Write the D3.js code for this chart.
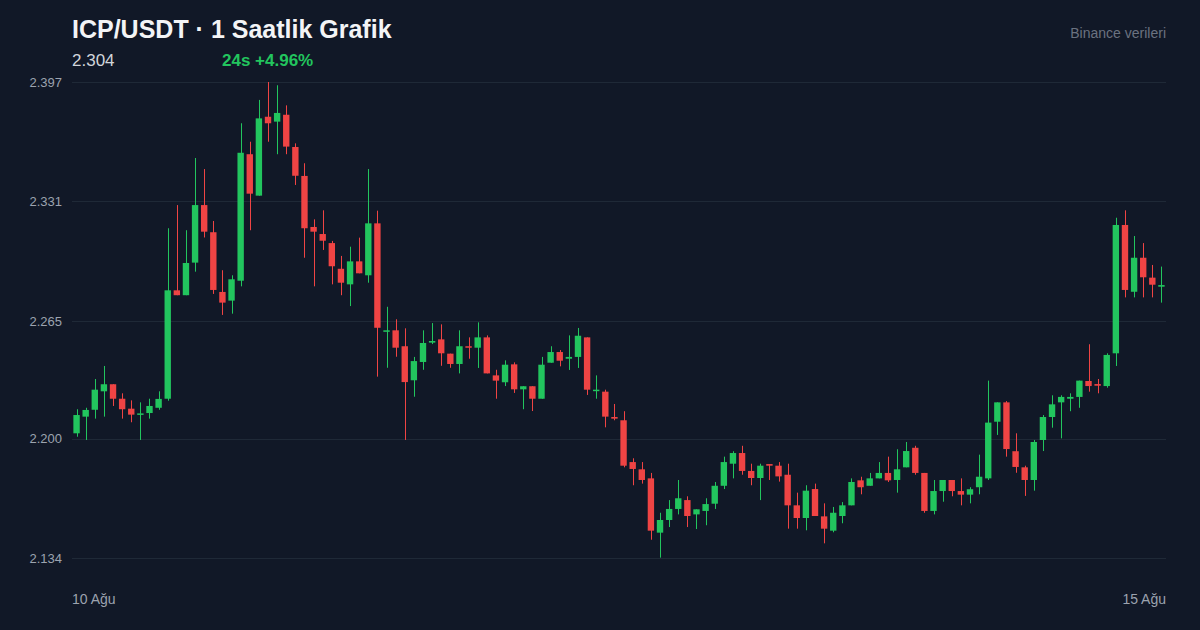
<!DOCTYPE html>
<html>
<head>
<meta charset="utf-8">
<script src="https://cdn.jsdelivr.net/npm/d3@7/dist/d3.min.js"></script>
<style>
  html, body { margin: 0; padding: 0; background: #111827; }
  svg { display: block; }
  text { font-family: "Liberation Sans", Arial, Helvetica, sans-serif; }
</style>
</head>
<body>
<svg id="chart" width="1200" height="630"></svg>
<script>
// ---- Data (hourly candles, ICP/USDT) ----
const opens = [2.2029,2.2121,2.2159,2.2261,2.2300,2.2220,2.2165,2.2132,2.2141,2.2170,
  2.2220,2.2819,2.2792,2.2972,2.3290,2.3140,2.2810,2.2762,2.2872,2.3571,
  2.3342,2.3778,2.3751,2.3789,2.3611,2.3451,2.3169,2.3130,2.3080,2.2938,
  2.2852,2.2979,2.2902,2.3189,2.2590,2.2598,2.2510,2.2322,2.2423,2.2530,
  2.2548,2.2469,2.2412,2.2510,2.2502,2.2559,2.2349,2.2311,2.2410,2.2272,
  2.2289,2.2220,2.2419,2.2478,2.2441,2.2451,2.2559,2.2263,2.2259,2.2119,
  2.2101,2.1870,2.1830,2.1780,2.1480,2.1550,2.1611,2.1660,2.1581,2.1600,
  2.1640,2.1739,2.1861,2.1920,2.1821,2.1782,2.1859,2.1850,2.1800,2.1631,
  2.1561,2.1721,2.1570,2.1491,2.1572,2.1631,2.1769,2.1739,2.1780,2.1810,
  2.1771,2.1841,2.1949,2.1810,2.1600,2.1710,2.1771,2.1710,2.1690,2.1731,
  2.1780,2.2093,2.2200,2.1930,2.1841,2.1771,2.1992,2.2119,2.2200,2.2220,
  2.2230,2.2318,2.2301,2.2290,2.2471,2.3180,2.2811,2.2999,2.2889,2.2839];
const highs = [2.2162,2.2170,2.2329,2.2401,2.2300,2.2250,2.2211,2.2200,2.2220,2.2261,
  2.3162,2.3290,2.3151,2.3550,2.3489,2.3202,2.2930,2.2902,2.3742,2.3640,
  2.3871,2.3970,2.3952,2.3841,2.3631,2.3521,2.3211,2.3261,2.3092,2.3009,
  2.3060,2.3110,2.3489,2.3259,2.2728,2.2659,2.2609,2.2451,2.2598,2.2638,
  2.2631,2.2469,2.2598,2.2559,2.2642,2.2570,2.2380,2.2432,2.2421,2.2289,
  2.2289,2.2451,2.2510,2.2489,2.2570,2.2611,2.2559,2.2349,2.2270,2.2191,
  2.2151,2.1891,2.1870,2.1810,2.1590,2.1660,2.1771,2.1681,2.1609,2.1670,
  2.1760,2.1900,2.1930,2.1960,2.1861,2.1861,2.1859,2.1870,2.1861,2.1701,
  2.1742,2.1751,2.1642,2.1622,2.1649,2.1780,2.1789,2.1810,2.1870,2.1900,
  2.1941,2.1981,2.1960,2.1810,2.1771,2.1771,2.1771,2.1780,2.1731,2.1911,
  2.2320,2.2200,2.2207,2.2029,2.1850,2.1992,2.2130,2.2239,2.2239,2.2250,
  2.2320,2.2521,2.2329,2.2471,2.3220,2.3261,2.3119,2.3080,2.2959,2.2950];
const lows = [2.2010,2.1992,2.2110,2.2121,2.2180,2.2110,2.2090,2.1992,2.2110,2.2159,
  2.2209,2.2792,2.2792,2.2922,2.3111,2.2799,2.2683,2.2690,2.2841,2.3151,
  2.3342,2.3640,2.3571,2.3571,2.3401,2.2999,2.2841,2.3042,2.2852,2.2792,
  2.2732,2.2913,2.2861,2.2342,2.2391,2.2452,2.1992,2.2231,2.2380,2.2522,
  2.2402,2.2391,2.2360,2.2441,2.2390,2.2360,2.2220,2.2290,2.2252,2.2162,
  2.2152,2.2220,2.2419,2.2399,2.2379,2.2390,2.2241,2.2220,2.2062,2.2101,
  2.1841,2.1742,2.1751,2.1441,2.1342,2.1511,2.1581,2.1511,2.1500,2.1521,
  2.1611,2.1721,2.1780,2.1800,2.1742,2.1660,2.1771,2.1762,2.1502,2.1502,
  2.1493,2.1572,2.1421,2.1482,2.1532,2.1631,2.1692,2.1739,2.1780,2.1760,
  2.1701,2.1841,2.1800,2.1590,2.1581,2.1651,2.1681,2.1631,2.1642,2.1692,
  2.1771,2.2020,2.1900,2.1811,2.1683,2.1712,2.1931,2.2060,2.2001,2.2151,
  2.2170,2.2259,2.2250,2.2281,2.2401,2.2780,2.2780,2.2780,2.2780,2.2751];
const closes = [2.2130,2.2158,2.2270,2.2300,2.2220,2.2162,2.2132,2.2139,2.2180,2.2219,
  2.2819,2.2792,2.2970,2.3290,2.3143,2.2821,2.2751,2.2880,2.3579,2.3353,
  2.3769,2.3742,2.3799,2.3613,2.3452,2.3162,2.3143,2.3093,2.2952,2.2861,
  2.2979,2.2913,2.3189,2.2612,2.2598,2.2502,2.2312,2.2428,2.2528,2.2539,
  2.2471,2.2412,2.2510,2.2502,2.2559,2.2360,2.2320,2.2408,2.2272,2.2289,
  2.2220,2.2408,2.2478,2.2430,2.2451,2.2568,2.2270,2.2270,2.2121,2.2110,
  2.1850,2.1832,2.1771,2.1491,2.1550,2.1611,2.1670,2.1572,2.1609,2.1638,
  2.1739,2.1870,2.1920,2.1821,2.1782,2.1850,2.1850,2.1791,2.1631,2.1561,
  2.1712,2.1572,2.1502,2.1590,2.1631,2.1760,2.1731,2.1780,2.1810,2.1769,
  2.1830,2.1931,2.1810,2.1600,2.1710,2.1771,2.1710,2.1690,2.1720,2.1789,
  2.2088,2.2200,2.1942,2.1843,2.1771,2.1981,2.2119,2.2189,2.2230,2.2230,
  2.2320,2.2290,2.2292,2.2462,2.3180,2.2821,2.2999,2.2891,2.2850,2.2848];

const yTickValues = [2.134, 2.200, 2.265, 2.331, 2.397];
const xTickLabels = ["10 Ağu", "15 Ağu"];
const titleText = "ICP/USDT · 1 Saatlik Grafik";
const lastPriceText = "2.304";
const changeText = "24s +4.96%";
const sourceText = "Binance verileri";

// ---- Layout ----
const W = 1200, H = 630;
const plot = { left: 72, right: 1166, top: 82, bottom: 558 };
const colors = { bg: "#111827", grid: "#1f2937", up: "#22c55e", down: "#ef4444",
  title: "#f3f4f6", sub: "#d1d5db", axis: "#9ca3af", source: "#6b7280" };

const candles = opens.map((o, i) => ({ i, o, h: highs[i], l: lows[i], c: closes[i] }));

const svg = d3.select("#chart");
svg.append("rect").attr("width", W).attr("height", H).attr("fill", colors.bg);

const x = d3.scaleBand().domain(candles.map(d => d.i)).range([plot.left, plot.right]).paddingInner(0.3).paddingOuter(0.15);
const y = d3.scaleLinear().domain([2.134, 2.397]).range([plot.bottom, plot.top]);

// grid
const grid = svg.append("g");
grid.selectAll("line").data(yTickValues).join("line")
  .attr("x1", plot.left).attr("x2", plot.right)
  .attr("y1", d => Math.round(y(d)) + 0.5).attr("y2", d => Math.round(y(d)) + 0.5)
  .attr("stroke", colors.grid).attr("stroke-width", 1);

// y axis labels
const yAxis = d3.axisLeft(y).tickValues(yTickValues).tickFormat(d3.format(".3f")).tickSize(0).tickPadding(10);
const ya = svg.append("g").attr("transform", `translate(${plot.left},0)`).call(yAxis);
ya.select(".domain").remove();
ya.selectAll("text").attr("fill", colors.axis).attr("font-size", 13)
  .style("font-family", '"Liberation Sans", Arial, sans-serif');

// candles
const bw = x.bandwidth();
const g = svg.append("g");
const cg = g.selectAll("g").data(candles).join("g");
cg.append("line")
  .attr("x1", d => Math.round(x(d.i) + bw / 2) + 0.5)
  .attr("x2", d => Math.round(x(d.i) + bw / 2) + 0.5)
  .attr("y1", d => y(d.h)).attr("y2", d => y(d.l))
  .attr("stroke", d => d.c >= d.o ? colors.up : colors.down).attr("stroke-width", 1);
cg.append("rect")
  .attr("x", d => x(d.i))
  .attr("width", bw)
  .attr("y", d => y(Math.max(d.o, d.c)))
  .attr("height", d => Math.max(1.5, Math.abs(y(d.o) - y(d.c))))
  .attr("fill", d => d.c >= d.o ? colors.up : colors.down);

// x labels
svg.append("text").attr("x", plot.left).attr("y", 604).attr("fill", colors.axis)
  .attr("font-size", 14).text(xTickLabels[0]);
svg.append("text").attr("x", plot.right).attr("y", 604).attr("fill", colors.axis)
  .attr("font-size", 14).attr("text-anchor", "end").text(xTickLabels[1]);

// header
svg.append("text").attr("x", 72).attr("y", 38).attr("fill", colors.title)
  .attr("font-size", 25).attr("font-weight", "bold").text(titleText);
svg.append("text").attr("x", 72).attr("y", 66).attr("fill", colors.sub)
  .attr("font-size", 17).text(lastPriceText);
svg.append("text").attr("x", 222).attr("y", 66).attr("fill", colors.up)
  .attr("font-size", 17).attr("font-weight", "bold").text(changeText);
svg.append("text").attr("x", 1166).attr("y", 38).attr("fill", colors.source)
  .attr("font-size", 14).attr("text-anchor", "end").text(sourceText);
</script>
</body>
</html>
